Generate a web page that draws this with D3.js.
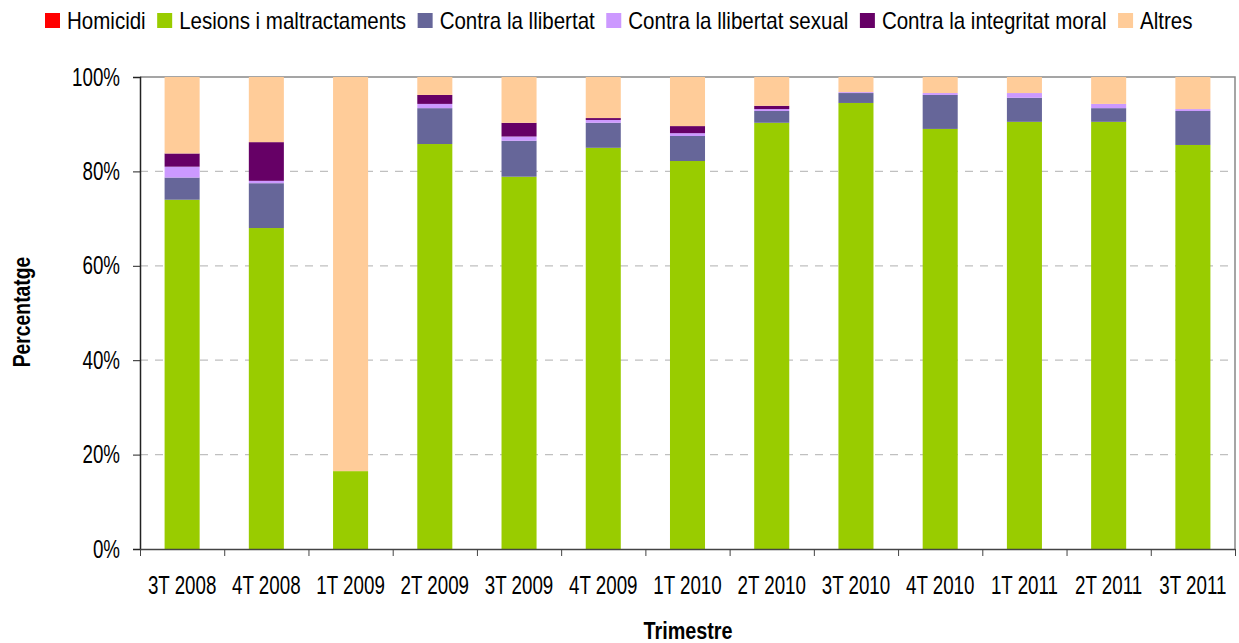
<!DOCTYPE html>
<html><head><meta charset="utf-8">
<script src="https://cdn.jsdelivr.net/npm/d3@7"></script>
<style>
body{margin:0;background:#fff;}
text{font-family:"Liberation Sans",Arial,sans-serif;fill:#000;}
</style></head>
<body><svg id="c" width="1239" height="643"></svg>
<script>
const categories = ["3T 2008","4T 2008","1T 2009","2T 2009","3T 2009","4T 2009","1T 2010","2T 2010","3T 2010","4T 2010","1T 2011","2T 2011","3T 2011"];
const seriesNames = ["Homicidi","Lesions i maltractaments","Contra la llibertat","Contra la llibertat sexual","Contra la integritat moral","Altres"];
const homicidi  = [0,0,0,0,0,0,0,0,0,0,0,0,0];
const lesions   = [74.0,68.0,16.5,85.8,78.8,85.0,82.2,90.3,94.5,89.0,90.5,90.5,85.6];
const llibertat = [4.7,9.5,0,7.6,7.6,5.3,5.3,2.5,2.1,7.2,5.1,2.9,7.2];
const sexual    = [2.3,0.5,0,0.9,0.9,0.6,0.6,0.4,0.2,0.4,1.0,0.9,0.4];
const moral     = [2.8,8.2,0,1.9,2.9,0.4,1.5,0.7,0,0,0,0,0];
const altres    = [16.2,13.8,83.5,3.8,9.7,8.7,10.4,6.1,3.2,3.4,3.4,5.7,6.8];
const yTicks = [0,20,40,60,80,100];
const colors = ["#FF0000","#99CC00","#666699","#CC99FF","#660066","#FFCC99"];

const seriesVals = [homicidi,lesions,llibertat,sexual,moral,altres];
const rows = categories.map((c,i)=>{const r={cat:c}; seriesNames.forEach((s,j)=>r[s]=seriesVals[j][i]); return r;});
const stack = d3.stack().keys(seriesNames).offset(d3.stackOffsetExpand)(rows);

function condense(sel, f){
  sel.each(function(){
    const w = this.getComputedTextLength();
    d3.select(this).attr("textLength", w*f).attr("lengthAdjust","spacingAndGlyphs");
  });
}

const svg = d3.select("#c");
const L=140,R=1235,T=77,B=549;
const x = d3.scaleBand().domain(categories).range([L,R]).paddingInner(0.584).paddingOuter(0.292);
const xl = d3.scaleLinear().domain([0,categories.length]).range([L,R]);
const y = d3.scaleLinear().domain([0,1]).range([B,T]);

// gridlines
svg.append("g").selectAll("line").data(yTicks.filter(t=>t>0&&t<100)).join("line")
  .attr("x1",L).attr("x2",R).attr("y1",d=>y(d/100)).attr("y2",d=>y(d/100))
  .attr("stroke","#c0c0c0").attr("stroke-width",1.2).attr("stroke-dasharray","8,7");
// plot border top/right
svg.append("path").attr("d",`M${L},${T}H${R}V${B}`).attr("fill","none").attr("stroke","#888").attr("stroke-width",1.5);

// bars
svg.append("g").selectAll("g").data(stack).join("g").attr("fill",(d,i)=>colors[i])
  .selectAll("rect").data(d=>d).join("rect")
  .attr("x",d=>x(d.data.cat)).attr("width",x.bandwidth())
  .attr("y",d=>y(d[1])).attr("height",d=>Math.max(0,y(d[0])-y(d[1])));

// y axis
const ya = svg.append("g").attr("transform",`translate(${L},0)`)
  .call(d3.axisLeft(y).tickValues(yTicks.map(t=>t/100)).tickFormat(d=>Math.round(d*100)+"%").tickSize(7).tickPadding(13));
ya.select(".domain").attr("stroke","#222").attr("stroke-width",1.5);
ya.selectAll(".tick line").attr("stroke","#222");
ya.selectAll("text").attr("font-size",25).style("font-family",'"Liberation Sans",Arial,sans-serif').attr("fill","#000");
condense(ya.selectAll("text"),0.75);

// x axis ticks
const xa = svg.append("g").attr("transform",`translate(0,${B})`)
  .call(d3.axisBottom(xl).tickValues(d3.range(categories.length+1)).tickFormat("").tickSize(7).tickSizeOuter(0));
xa.select(".domain").attr("stroke","#444").attr("stroke-width",1.5);
xa.selectAll(".tick line").attr("stroke","#444");
const xb = svg.append("g").attr("transform",`translate(0,${B})`)
  .call(d3.axisBottom(x).tickSize(0).tickPadding(27));
xb.select(".domain").remove();
xb.selectAll("text").attr("font-size",25).style("font-family",'"Liberation Sans",Arial,sans-serif').attr("fill","#000");
condense(xb.selectAll("text"),0.75);

// axis titles
const yt = svg.append("text").attr("transform","translate(30,312) rotate(-90)").attr("text-anchor","middle")
  .attr("font-size",23).attr("font-weight","bold").text("Percentatge");
condense(yt,0.84);
const xt = svg.append("text").attr("x",688).attr("y",639).attr("text-anchor","middle")
  .attr("font-size",23).attr("font-weight","bold").text("Trimestre");
condense(xt,0.86);

// legend
const lg = svg.append("g");
let lx = 45;
seriesNames.forEach((s,i)=>{
  lg.append("rect").attr("x",lx).attr("y",13).attr("width",15).attr("height",15).attr("fill",colors[i]);
  const t = lg.append("text").attr("x",lx+22).attr("y",29).attr("font-size",24).text(s);
  const w = t.node().getComputedTextLength()*0.855;
  t.attr("textLength",w).attr("lengthAdjust","spacingAndGlyphs");
  lx += 22 + w + 11.5;
});
</script></body></html>
